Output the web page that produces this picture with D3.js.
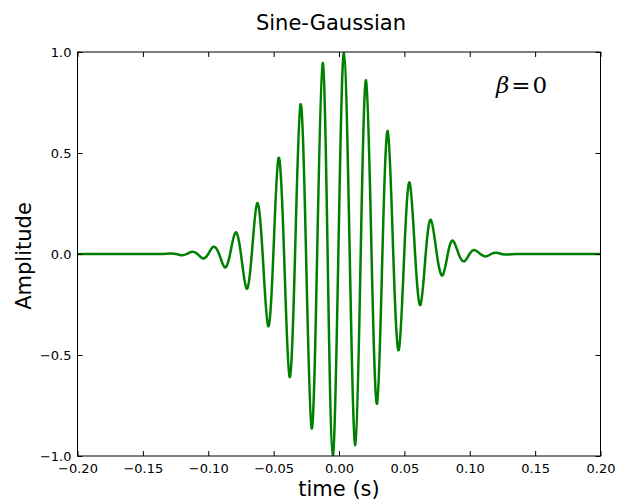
<!DOCTYPE html>
<html>
<head>
<meta charset="utf-8">
<script src="https://cdn.jsdelivr.net/npm/d3@7"></script>
<style>
  body { margin: 0; background: #fff; }
  text { font-family: "DejaVu Sans", sans-serif; fill: #000; }
</style>
</head>
<body>
<div id="chart"></div>
<script>
// peaks and troughs of the wave (time in s, amplitude)
var extremaTimes = [-0.1287, -0.1203, -0.1124, -0.1040, -0.0960, -0.0874, -0.0792, -0.0707,
                    -0.0626, -0.0542, -0.0462, -0.0378, -0.0294, -0.0209, -0.0125, -0.0048,
                     0.0038,  0.0125,  0.0207,  0.0291,  0.0373,  0.0457,  0.0540,  0.0623,
                     0.0703,  0.0792,  0.0871,  0.0958,  0.1037,  0.1124,  0.1203,  0.1285];
var extremaAmps  = [ 0.003, -0.006,  0.011, -0.022,  0.036, -0.066,  0.107, -0.171,
                     0.251, -0.357,  0.476, -0.609,  0.741, -0.864,  0.946, -1.000,
                     0.998, -0.946,  0.860, -0.741,  0.608, -0.476,  0.354, -0.252,
                     0.169, -0.106,  0.066, -0.036,  0.020, -0.012,  0.006, -0.003];
// where the line crosses zero
var crossTimes = [-0.1245, -0.1164, -0.1082, -0.1000, -0.0917, -0.0833, -0.0750, -0.0667,
                  -0.0584, -0.0502, -0.0420, -0.0336, -0.0252, -0.0167, -0.0087, -0.0005,
                   0.0082,  0.0166,  0.0249,  0.0332,  0.0415,  0.0499,  0.0582,  0.0663,
                   0.0748,  0.0832,  0.0915,  0.0998,  0.1081,  0.1164,  0.1244];
// flat parts at both ends
var flatTimes = [-0.20, -0.18, -0.16, -0.145, -0.136, 0.136, 0.145, 0.16, 0.18, 0.20];

var xTicks = [-0.20, -0.15, -0.10, -0.05, 0.00, 0.05, 0.10, 0.15, 0.20];
var yTicks = [-1.0, -0.5, 0.0, 0.5, 1.0];

var W = 617, H = 501;
var pl = 77.5, pr = 600.5, pt = 52, pb = 456;

var pts = [];
extremaTimes.forEach(function(t, i) { pts.push([t, extremaAmps[i]]); });
crossTimes.forEach(function(t) { pts.push([t, 0]); });
flatTimes.forEach(function(t) { pts.push([t, 0]); });
pts.sort(function(a, b) { return a[0] - b[0]; });

var svg = d3.select("#chart").append("svg")
    .attr("width", W)
    .attr("height", H);

var x = d3.scaleLinear().domain([-0.2, 0.2]).range([pl, pr]);
var y = d3.scaleLinear().domain([-1, 1]).range([pb, pt]);

var fmtX = function(d) { return d3.format(".2f")(d).replace("-", "\u2212"); };
var fmtY = function(d) { return d3.format(".1f")(d).replace("-", "\u2212"); };

// clip the line to the frame
svg.append("clipPath").attr("id", "clip")
    .append("rect")
    .attr("x", pl).attr("y", pt)
    .attr("width", pr - pl).attr("height", pb - pt);

var line = d3.line()
    .x(function(d) { return x(d[0]); })
    .y(function(d) { return y(d[1]); })
    .curve(d3.curveNatural);

svg.append("path")
    .datum(pts)
    .attr("clip-path", "url(#clip)")
    .attr("fill", "none")
    .attr("stroke", "#008000")
    .attr("stroke-width", 2.5)
    .attr("stroke-linejoin", "round")
    .attr("d", line);

// axes, ticks pointing inward on all sides
var tk = 5;
var xb = d3.axisBottom(x).tickValues(xTicks).tickSizeInner(-tk).tickSizeOuter(0).tickPadding(8).tickFormat(fmtX);
var xt = d3.axisTop(x).tickValues(xTicks).tickSizeInner(-tk).tickSizeOuter(0).tickFormat("");
var yl = d3.axisLeft(y).tickValues(yTicks).tickSizeInner(-tk).tickSizeOuter(0).tickPadding(6).tickFormat(fmtY);
var yr = d3.axisRight(y).tickValues(yTicks).tickSizeInner(-tk).tickSizeOuter(0).tickFormat("");

function styleAxis(g) {
  g.attr("font-size", "13px").attr("font-family", null);
  g.select(".domain").remove();
  g.selectAll(".tick line").attr("stroke", "#000");
  g.selectAll(".tick text").attr("fill", "#000");
}

svg.append("g").attr("transform", "translate(0," + pb + ")").call(xb).call(styleAxis);
svg.append("g").attr("transform", "translate(0," + pt + ")").call(xt).call(styleAxis);
svg.append("g").attr("transform", "translate(" + pl + ",0)").call(yl).call(styleAxis);
svg.append("g").attr("transform", "translate(" + pr + ",0)").call(yr).call(styleAxis);

svg.append("rect")
    .attr("x", pl).attr("y", pt)
    .attr("width", pr - pl).attr("height", pb - pt)
    .attr("fill", "none")
    .attr("stroke", "#000")
    .attr("stroke-width", 1);

// labels
svg.append("text")
    .attr("x", 331).attr("y", 30)
    .attr("text-anchor", "middle")
    .attr("font-size", "21px")
    .text("Sine-Gaussian");

svg.append("text")
    .attr("x", 339).attr("y", 496)
    .attr("text-anchor", "middle")
    .attr("font-size", "21px")
    .text("time (s)");

svg.append("text")
    .attr("transform", "translate(31,256) rotate(-90)")
    .attr("text-anchor", "middle")
    .attr("font-size", "21px")
    .text("Amplitude");

var ann = svg.append("text")
    .attr("x", 496).attr("y", 93)
    .attr("font-size", "23px")
    .style("font-family", "'DejaVu Serif', serif");
ann.append("tspan").attr("font-style", "italic").text("\u03b2");
ann.append("tspan").attr("dx", 2).text("=");
ann.append("tspan").attr("dx", 2).text("0");
</script>
</body>
</html>
